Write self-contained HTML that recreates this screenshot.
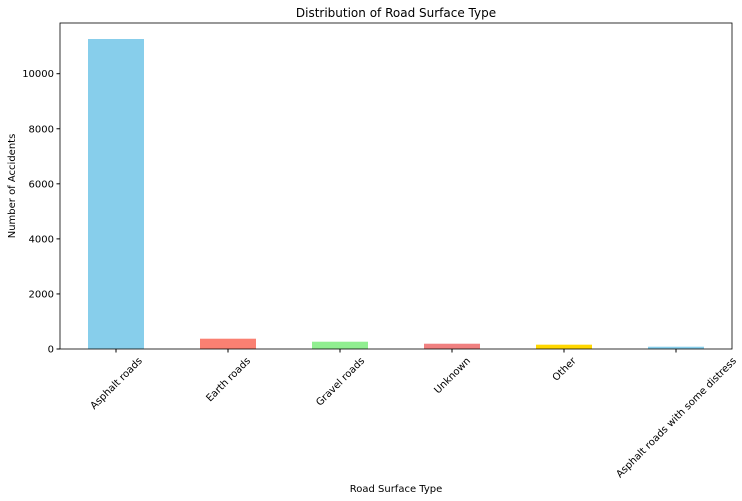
<!DOCTYPE html>
<html><head><meta charset="utf-8"><style>
body{margin:0;background:#fff}
svg{display:block;font-family:"DejaVu Sans","Liberation Sans",sans-serif}
</style></head><body>
<svg id="c" width="742" height="501">
<rect width="742" height="501" fill="#fff"/>
<text x="396" y="17" font-size="12" text-anchor="middle">Distribution of Road Surface Type</text>
<text x="396" y="492" font-size="10" text-anchor="middle">Road Surface Type</text>
<text transform="translate(15,186) rotate(-90)" font-size="10" text-anchor="middle">Number of Accidents</text>
<g id="bars"></g><g id="axes"></g>
</svg>
<script>
const categories=["Asphalt roads","Earth roads","Gravel roads","Unknown","Other","Asphalt roads with some distress"];
const values=[11260,374,265,192,157,83];
const colors=["#87CEEB","#FA8072","#90EE90","#F08080","#FFD700","#87CEEB"];
const yTicks=[0,2000,4000,6000,8000,10000];
const L=60,R=732,T=23,B=349;
const yScale=v=>B-v*(B-73.7)/10000;
const step=(R-L)/categories.length;
const xScale=i=>L+step*(i+0.5);
const NS="http://www.w3.org/2000/svg";
const bars=document.getElementById('bars'),axes=document.getElementById('axes');
function mk(t,a,p){const e=document.createElementNS(NS,t);for(const k in a)e.setAttribute(k,a[k]);p.appendChild(e);return e;}
categories.forEach((c,i)=>{
 const cx=xScale(i),w=step*0.5;
 const r=mk('rect',{x:cx-w/2,y:yScale(values[i]),width:w,height:B-yScale(values[i]),fill:colors[i]},bars);
 
 
 mk('line',{x1:cx,x2:cx,y1:B,y2:B+3.5,stroke:'#000'},axes);
 const t=mk('text',{x:0,y:3.5,'font-size':10,'text-anchor':'middle'},axes);
 t.textContent=c;
 const tw=t.getComputedTextLength();
 const h=(tw+11)*0.7071;
 t.setAttribute('transform',`translate(${cx},${B+6+h/2}) rotate(-45)`);
 
 
});
yTicks.forEach(v=>{
 const y=yScale(v);
 mk('line',{x1:L-3.5,x2:L,y1:y,y2:y,stroke:'#000'},axes);
 const t=mk('text',{x:L-6,y:y+3.5,'font-size':10,'text-anchor':'end'},axes);
 t.textContent=v;
 
 
});
const f=mk('rect',{x:L,y:T,width:R-L,height:B-T,fill:'none',stroke:'#000','stroke-width':0.8},axes);


</script>
</body></html>
